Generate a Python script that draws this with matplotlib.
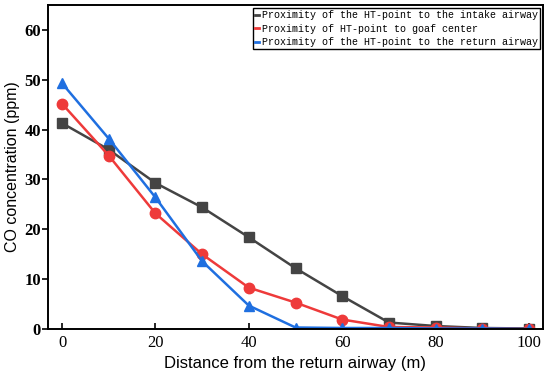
import numpy as np
import matplotlib.pyplot as plt
from matplotlib.lines import Line2D

distance = [0, 10, 20, 30, 40, 50, 60, 70, 80, 90, 100]
intake = [41.3, 36.0, 29.3, 24.4, 18.4, 12.2, 6.6, 1.3, 0.6, 0.2, 0.1]
goaf = [45.2, 34.8, 23.2, 15.0, 8.3, 5.3, 1.9, 0.4, 0.3, 0.1, 0.0]
ret = [49.3, 38.2, 26.4, 13.6, 4.7, 0.3, 0.2, 0.2, 0.1, 0.1, 0.0]

labels = ["Proximity of the HT-point to the intake airway",
          "Proximity of HT-point to goaf center",
          "Proximity of the HT-point to the return airway"]
colors = ["#444444", "#ee3a3a", "#1f6fe0"]
markers = ["s", "o", "^"]

fig = plt.figure(figsize=(5.5, 3.84), dpi=100)
ax = fig.add_axes([48 / 550, 1 - 329 / 384, 495 / 550, 324 / 384])

for y, c, m in zip([intake, goaf, ret], colors, markers):
    ax.plot(distance, y, color=c, marker=m, markersize=7.5, linewidth=1.8)

ax.set_xlim(-3, 103)
ax.set_ylim(0, 65)
ax.set_xticks([0, 20, 40, 60, 80, 100])
ax.set_yticks([0, 10, 20, 30, 40, 50, 60])
ax.tick_params(axis="x", direction="in", length=4, width=1.2, pad=4)
ax.tick_params(axis="y", direction="out", length=4, width=1.2, pad=1)
for lab in ax.get_xticklabels():
    lab.set_fontfamily("Liberation Serif")
    lab.set_fontsize(12)
for lab in ax.get_yticklabels():
    lab.set_fontfamily("Liberation Serif")
    lab.set_fontsize(12)
    lab.set_fontweight("bold")
for s in ax.spines.values():
    s.set_linewidth(1.4)

ax.set_xlabel("Distance from the return airway (m)", fontfamily="Liberation Sans", fontsize=12, labelpad=4)
ax.set_ylabel("CO concentration (ppm)", fontfamily="Liberation Sans", fontsize=11.5, labelpad=3)

handles = [Line2D([0], [0], color=c, linewidth=2) for c in colors]
leg = ax.legend(handles, labels, loc="upper right", bbox_to_anchor=(1.0, 1.0),
                borderaxespad=0.3, handlelength=0.4, handletextpad=0.3,
                labelspacing=0.35, borderpad=0.2, fancybox=False,
                edgecolor="black", framealpha=1,
                prop={"family": "Liberation Mono", "size": 7.2})
leg.get_frame().set_linewidth(1.0)

fig.savefig("out.png", dpi=100)
